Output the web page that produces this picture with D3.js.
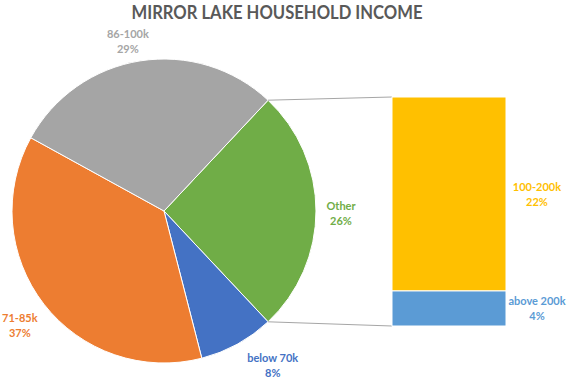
<!DOCTYPE html>
<html>
<head>
<meta charset="utf-8">
<script src="https://cdn.jsdelivr.net/npm/d3@7"></script>
<style>
  body { margin: 0; background: #fff; }
  text { font-family: Lato, "Open Sans", sans-serif; font-weight: bold; }
</style>
</head>
<body>
<svg id="chart" width="573" height="380"></svg>
<script>
// pie slices (Other is split out into the bar)
pie_labels = ["Other", "below 70k", "71-85k", "86-100k"]
pie_values = [26, 8, 37, 29]
pie_colors = ["#70AD47", "#4472C4", "#ED7D31", "#A5A5A5"]

// stacked bar that explains "Other"
bar_labels = ["above 200k", "100-200k"]
bar_values = [4, 22]
bar_colors = ["#5B9BD5", "#FFC000"]

svg_width = 573
svg_height = 380
pie_cx = 164
pie_cy = 211
pie_radius = 152
label_radius = 180
bar_left = 392
bar_right = 506
bar_top = 97
bar_bottom = 326

// small nudges so the labels sit where the "best fit" put them
label_nudge = [[-3, 2], [22, -4], [-2, 4], [-8, 8]]

const svg = d3.select('#chart');

svg.append("text")
    .attr("x", 277)
    .attr("y", 19)
    .attr("text-anchor", "middle")
    .attr("textLength", 291)
    .attr("lengthAdjust", "spacingAndGlyphs")
    .style("font-size", "19.5px")
    .style("fill", "#595959")
    .text("MIRROR LAKE HOUSEHOLD INCOME");

const total = d3.sum(pie_values);
const otherAngle = pie_values[0] / total * 2 * Math.PI;
const start = Math.PI / 2 - otherAngle / 2;

const pie = d3.pie()
    .sort(null)
    .value(d => d)
    .startAngle(start)
    .endAngle(start + 2 * Math.PI);

const arcs = pie(pie_values);

const arc = d3.arc().innerRadius(0).outerRadius(pie_radius);
const labelArc = d3.arc().innerRadius(label_radius).outerRadius(label_radius);

const pieG = svg.append("g").attr("transform", `translate(${pie_cx},${pie_cy})`);

// bar scale
const yScale = d3.scaleLinear()
    .domain([0, d3.sum(bar_values)])
    .range([bar_bottom, bar_top]);

// connector lines from the Other slice to the bar
const otherArc = arcs[0];
const p1 = [pie_cx + pie_radius * Math.sin(otherArc.startAngle), pie_cy - pie_radius * Math.cos(otherArc.startAngle)];
const p2 = [pie_cx + pie_radius * Math.sin(otherArc.endAngle), pie_cy - pie_radius * Math.cos(otherArc.endAngle)];
svg.append("line")
    .attr("x1", p1[0]).attr("y1", p1[1])
    .attr("x2", bar_left).attr("y2", yScale(d3.sum(bar_values)))
    .style("stroke", "#A6A6A6").style("stroke-width", 1);
svg.append("line")
    .attr("x1", p2[0]).attr("y1", p2[1])
    .attr("x2", bar_left).attr("y2", yScale(0))
    .style("stroke", "#A6A6A6").style("stroke-width", 1);

pieG.selectAll(".slice")
    .data(arcs)
    .enter()
    .append("path")
    .attr("class", "slice")
    .attr("d", arc)
    .style("fill", (d, i) => pie_colors[i])
    .style("stroke", "#fff")
    .style("stroke-width", 1);

function twoLine(g, x, y, l1, l2, color) {
    const t = g.append("text")
        .attr("text-anchor", "middle")
        .style("font-size", "11px")
        .style("fill", color);
    t.append("tspan").attr("x", x).attr("y", y - 3).text(l1);
    t.append("tspan").attr("x", x).attr("y", y + 12).text(l2);
}

arcs.forEach((d, i) => {
    const c = labelArc.centroid(d);
    const pct = Math.round(pie_values[i] / total * 100) + "%";
    twoLine(pieG, c[0] + label_nudge[i][0], c[1] + label_nudge[i][1], pie_labels[i], pct, pie_colors[i]);
});

// stacked bar
let acc = 0;
const stacked = bar_values.map((v, i) => {
    const s = { label: bar_labels[i], value: v, y0: acc, y1: acc + v, color: bar_colors[i] };
    acc += v;
    return s;
});

svg.selectAll(".bar")
    .data(stacked)
    .enter()
    .append("rect")
    .attr("class", "bar")
    .attr("x", bar_left)
    .attr("width", bar_right - bar_left)
    .attr("y", d => yScale(d.y1))
    .attr("height", d => yScale(d.y0) - yScale(d.y1))
    .style("fill", d => d.color)
    .style("stroke", "#fff")
    .style("stroke-width", 1);

stacked.forEach(d => {
    const cy = (yScale(d.y0) + yScale(d.y1)) / 2;
    const pct = Math.round(d.value / total * 100) + "%";
    twoLine(svg, bar_right + 31, cy, d.label, pct, d.color);
});
</script>
</body>
</html>
